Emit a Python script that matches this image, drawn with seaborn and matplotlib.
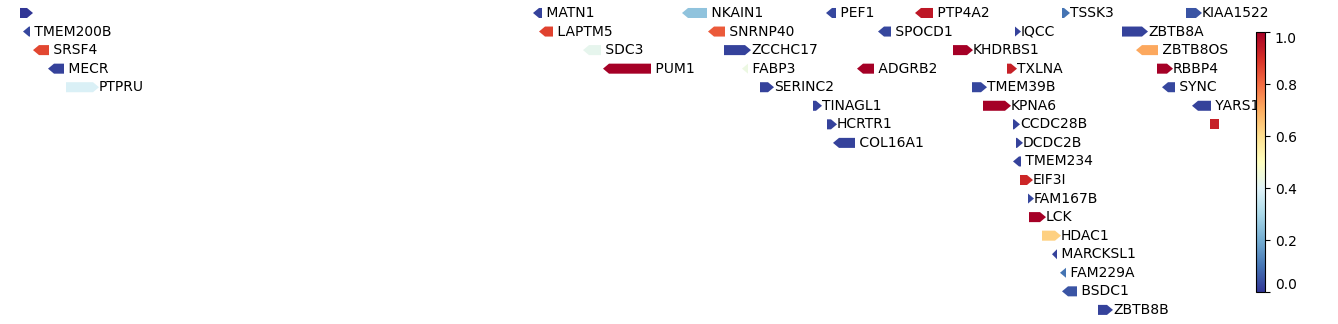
import matplotlib
matplotlib.use("Agg")
import matplotlib.pyplot as plt
from matplotlib.patches import Polygon
from matplotlib.colors import Normalize
import matplotlib.cm as cm
import seaborn as sns

# ---- data (track positions) ----
genes = ["", "MATN1", "NKAIN1", "PEF1", "PTP4A2", "TSSK3", "KIAA1522",
         "TMEM200B", "LAPTM5", "SNRNP40", "SPOCD1", "IQCC", "ZBTB8A",
         "SRSF4", "SDC3", "ZCCHC17", "KHDRBS1", "ZBTB8OS",
         "MECR", "PUM1", "FABP3", "ADGRB2", "TXLNA", "RBBP4",
         "PTPRU", "SERINC2", "TMEM39B", "SYNC",
         "TINAGL1", "KPNA6", "YARS1",
         "HCRTR1", "CCDC28B", "",
         "COL16A1", "DCDC2B",
         "TMEM234", "EIF3I", "FAM167B", "LCK", "HDAC1", "MARCKSL1",
         "FAM229A", "BSDC1", "ZBTB8B"]
starts = [20, 533, 682, 826, 915, 1062, 1186,
          23, 539, 708, 878, 1015, 1122,
          33, 583, 724, 953, 1136,
          48, 603, 742, 857, 1007, 1157,
          66, 760, 972, 1162,
          813, 983, 1192,
          827, 1013, 1210,
          833, 1016,
          1013, 1020, 1028, 1029, 1042, 1052,
          1060, 1062, 1098]
ends = [33, 542, 707, 836, 933, 1070, 1202,
        30, 553, 725, 891, 1021, 1148,
        49, 601, 751, 973, 1158,
        64, 651, 748, 874, 1017, 1173,
        99, 774, 987, 1175,
        822, 1011, 1211,
        837, 1020, 1219,
        855, 1023,
        1021, 1033, 1034, 1046, 1061, 1057,
        1066, 1077, 1113]
strands = [1, -1, -1, -1, -1, 1, 1,
           -1, -1, -1, -1, 1, 1,
           -1, -1, 1, 1, -1,
           -1, -1, -1, -1, 1, 1,
           1, 1, 1, -1,
           1, 1, -1,
           1, 1, 0,
           -1, 1,
           -1, 1, 1, 1, 1, -1,
           -1, -1, 1]
rows = [0, 0, 0, 0, 0, 0, 0,
        1, 1, 1, 1, 1, 1,
        2, 2, 2, 2, 2,
        3, 3, 3, 3, 3, 3,
        4, 4, 4, 4,
        5, 5, 5,
        6, 6, 6,
        7, 7,
        8, 9, 10, 11, 12, 13,
        14, 15, 16]
scores = [0.0, 0.02, 0.25, 0.03, 0.95, 0.1, 0.05,
          0.03, 0.87, 0.83, 0.03, 0.02, 0.02,
          0.86, 0.42, 0.02, 1.0, 0.71,
          0.02, 1.0, 0.44, 1.0, 0.93, 1.0,
          0.39, 0.02, 0.03, 0.03,
          0.02, 1.0, 0.02,
          0.02, 0.02, 0.93,
          0.02, 0.02,
          0.02, 0.92, 0.03, 1.0, 0.63, 0.02,
          0.1, 0.05, 0.02]
cbar_ticks = [0.0, 0.2, 0.4, 0.6, 0.8, 1.0]

sns.set_style("white")
plt.rcParams["font.family"] = ["DejaVu Sans"]
plt.rcParams["text.color"] = "black"

cmap = sns.color_palette("RdYlBu_r", as_cmap=True)
norm = Normalize(0, 1)

fig = plt.figure(figsize=(13.38, 3.24), dpi=100)
ax = fig.add_axes([0, 0, 1, 1])
ax.set_xlim(0, 1338)
ax.set_ylim(16.76, -0.70)
ax.axis("off")

half_h = 0.27
head = 6.0
for name, s, e, st, r, v in zip(genes, starts, ends, strands, rows, scores):
    L = e - s
    hl = min(head, L)
    y0, y1 = r - half_h, r + half_h
    if st == 1:
        pts = [(s, y0), (e - hl, y0), (e, r), (e - hl, y1), (s, y1)]
    elif st == -1:
        pts = [(e, y0), (s + hl, y0), (s, r), (s + hl, y1), (e, y1)]
    else:
        pts = [(s, y0), (e, y0), (e, y1), (s, y1)]
    ax.add_patch(Polygon(pts, closed=True, facecolor=cmap(norm(v)),
                         edgecolor="none"))
    if name:
        label = name if st == 1 else " " + name
        ax.text(e, r, label, ha="left", va="center", fontsize=10,
                color="black")

cax = fig.add_axes([1255.7 / 1338, (324 - 292.3) / 324, 9.3 / 1338, 260 / 324])
sm = cm.ScalarMappable(norm=norm, cmap=cmap)
cbar = fig.colorbar(sm, cax=cax)
cbar.outline.set_edgecolor("black")
cbar.outline.set_linewidth(0.8)
cbar.set_ticks(cbar_ticks)
cbar.set_ticklabels([f"{t:.1f}" for t in cbar_ticks])
cax.tick_params(axis="y", right=True, length=3.5, width=0.8, labelsize=10,
                colors="black", direction="out")
labs = cax.get_yticklabels()
labs[0].set_va("bottom")
labs[-1].set_va("top")

fig.savefig("out.png", dpi=100)
